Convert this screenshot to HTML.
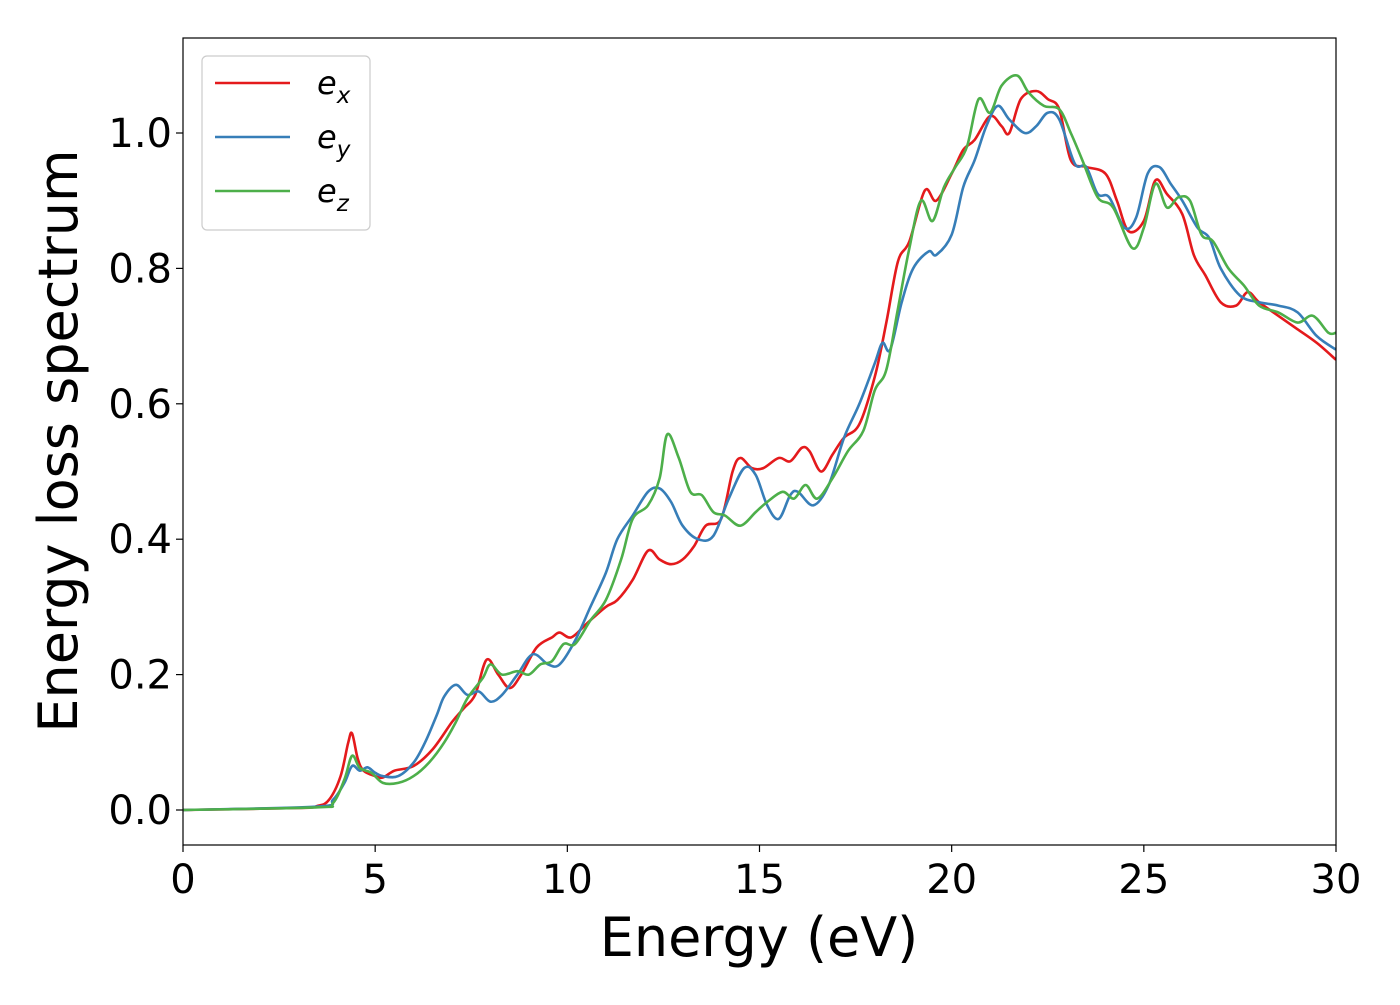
<!DOCTYPE html>
<html><head><meta charset="utf-8"><style>
body{margin:0;background:#fff;width:1400px;height:1000px;overflow:hidden}
svg text{font-family:"DejaVu Sans","Liberation Sans",sans-serif;fill:#000}
</style></head><body>
<svg id="chart" width="1400" height="1000" xmlns="http://www.w3.org/2000/svg">
<g id="plot"></g>
</svg>
<script>
const xTicks=[0,5,10,15,20,25,30];
const yTicks=[0.0,0.2,0.4,0.6,0.8,1.0];
const seriesNames=["e_x","e_y","e_z"];
const exX=[0,3,3.5,3.8,4.1,4.3,4.4,4.55,4.7,5.0,5.2,5.5,6.0,6.5,7.0,7.3,7.6,7.9,8.2,8.5,8.8,9.2,9.6,9.8,10.1,10.5,11.0,11.3,11.7,12.1,12.4,12.7,13.0,13.3,13.6,14.0,14.3,14.5,14.8,15.1,15.5,15.8,16.1,16.3,16.6,16.9,17.2,17.6,18.0,18.3,18.6,18.9,19.3,19.6,20.0,20.3,20.6,21.0,21.3,21.5,21.8,22.2,22.5,22.8,23.1,23.5,24.0,24.3,24.6,25.0,25.3,25.6,26.0,26.3,26.6,27.0,27.4,27.7,28.0,28.5,29.0,29.5,30];
const exY=[0,0.003,0.006,0.015,0.05,0.1,0.113,0.075,0.058,0.05,0.048,0.058,0.065,0.09,0.13,0.15,0.17,0.222,0.2,0.18,0.2,0.24,0.255,0.262,0.255,0.275,0.3,0.31,0.34,0.383,0.37,0.363,0.37,0.39,0.42,0.43,0.5,0.52,0.505,0.505,0.52,0.515,0.535,0.53,0.5,0.525,0.55,0.57,0.64,0.72,0.81,0.84,0.915,0.9,0.94,0.975,0.99,1.025,1.01,1.0,1.05,1.062,1.05,1.035,0.96,0.95,0.94,0.9,0.855,0.87,0.93,0.91,0.88,0.82,0.79,0.75,0.745,0.765,0.75,0.73,0.71,0.69,0.665];
const eyX=[0,3.5,3.9,4.2,4.4,4.6,4.8,5.0,5.2,5.6,6.0,6.3,6.6,6.8,7.1,7.4,7.7,8.0,8.3,8.7,9.1,9.5,9.8,10.2,10.6,11.0,11.3,11.7,12.1,12.4,12.7,13.0,13.4,13.8,14.2,14.6,14.9,15.2,15.5,15.8,16.0,16.4,16.8,17.2,17.6,18.0,18.2,18.4,18.7,19.0,19.4,19.6,20.0,20.3,20.6,20.9,21.2,21.5,21.9,22.2,22.5,22.8,23.2,23.5,23.8,24.1,24.5,24.8,25.1,25.4,25.7,26.0,26.4,26.7,27.0,27.5,28.0,28.5,29.0,29.5,30];
const eyY=[0,0.005,0.015,0.04,0.065,0.058,0.063,0.055,0.05,0.05,0.07,0.1,0.14,0.168,0.185,0.17,0.175,0.16,0.17,0.2,0.23,0.215,0.215,0.25,0.3,0.35,0.4,0.435,0.47,0.475,0.455,0.42,0.4,0.405,0.46,0.505,0.495,0.45,0.43,0.465,0.47,0.45,0.48,0.55,0.6,0.66,0.69,0.68,0.75,0.8,0.825,0.82,0.85,0.92,0.96,1.01,1.04,1.02,1.0,1.01,1.03,1.02,0.955,0.95,0.91,0.905,0.86,0.875,0.94,0.95,0.925,0.9,0.86,0.845,0.8,0.76,0.75,0.745,0.735,0.7,0.68];
const ezX=[0,3.5,3.9,4.2,4.4,4.6,4.9,5.2,5.6,6.0,6.4,6.8,7.1,7.4,7.8,8.0,8.3,8.7,9.0,9.3,9.6,9.9,10.2,10.6,11.0,11.4,11.7,12.1,12.4,12.6,12.9,13.2,13.5,13.8,14.1,14.5,14.9,15.2,15.6,15.9,16.2,16.5,16.9,17.3,17.7,18.0,18.3,18.6,18.9,19.2,19.5,19.8,20.1,20.4,20.7,21.0,21.3,21.7,22.0,22.4,22.8,23.1,23.4,23.8,24.2,24.7,25.0,25.3,25.6,25.9,26.2,26.5,26.8,27.2,27.6,28.0,28.5,29.0,29.4,29.8,30];
const ezY=[0,0.004,0.01,0.045,0.08,0.062,0.055,0.04,0.04,0.05,0.07,0.1,0.13,0.165,0.195,0.215,0.2,0.205,0.2,0.215,0.22,0.245,0.245,0.28,0.31,0.37,0.43,0.45,0.49,0.555,0.52,0.47,0.465,0.44,0.435,0.42,0.44,0.455,0.47,0.46,0.48,0.46,0.49,0.53,0.56,0.62,0.65,0.74,0.83,0.9,0.87,0.92,0.95,0.98,1.05,1.03,1.07,1.085,1.06,1.04,1.035,1.0,0.96,0.905,0.89,0.83,0.86,0.925,0.89,0.905,0.9,0.85,0.84,0.8,0.775,0.745,0.735,0.72,0.73,0.705,0.705];

const L=183,R=1336,T=38,B=845;
const sx=v=>L+(v-0)/(30-0)*(R-L);
const sy=v=>810-v*677;
const NS="http://www.w3.org/2000/svg";
const g=document.getElementById('plot');
function mk(t,a){const e=document.createElementNS(NS,t);for(const k in a)e.setAttribute(k,a[k]);g.appendChild(e);return e;}
function path(xs,ys){
  const p=xs.map((x,i)=>[sx(x),sy(ys[i])]);
  let d=`M${p[0][0].toFixed(1)},${p[0][1].toFixed(1)}`;
  for(let i=0;i<p.length-1;i++){
    const p0=p[Math.max(0,i-1)],p1=p[i],p2=p[i+1],p3=p[Math.min(p.length-1,i+2)];
    const c1=[p1[0]+(p2[0]-p0[0])/6,p1[1]+(p2[1]-p0[1])/6];
    const c2=[p2[0]-(p3[0]-p1[0])/6,p2[1]-(p3[1]-p1[1])/6];
    d+=`C${c1[0].toFixed(1)},${c1[1].toFixed(1)} ${c2[0].toFixed(1)},${c2[1].toFixed(1)} ${p2[0].toFixed(1)},${p2[1].toFixed(1)}`;
  }
  return d;
}
const clip=mk('clipPath',{id:'cp'});
const cr=document.createElementNS(NS,'rect');cr.setAttribute('x',L);cr.setAttribute('y',T);cr.setAttribute('width',R-L);cr.setAttribute('height',B-T);clip.appendChild(cr);
const series=[[exX,exY,'#e41a1c','series-ex'],[eyX,eyY,'#377eb8','series-ey'],[ezX,ezY,'#4daf4a','series-ez']];
series.forEach(s=>{
  const e=mk('path',{d:path(s[0],s[1]),fill:'none',stroke:s[2],'stroke-width':2.6,'clip-path':'url(#cp)','stroke-linejoin':'round'});
  
  
});
const fr=mk('rect',{x:L,y:T,width:R-L,height:B-T,fill:'none',stroke:'#000','stroke-width':1.2});


xTicks.forEach(v=>{
  mk('line',{x1:sx(v),x2:sx(v),y1:B,y2:B+7,stroke:'#000','stroke-width':1.2});
  const t=mk('text',{x:sx(v),y:893,'font-size':40,'text-anchor':'middle'});t.textContent=v;
  
  
});
yTicks.forEach(v=>{
  mk('line',{x1:L-7,x2:L,y1:sy(v),y2:sy(v),stroke:'#000','stroke-width':1.2});
  const t=mk('text',{x:172,y:sy(v)+14,'font-size':40,'text-anchor':'end'});t.textContent=v.toFixed(1);
  
  
});
const xl=mk('text',{x:759,y:956,'font-size':54,'text-anchor':'middle'});xl.textContent='Energy (eV)';


const yl=mk('text',{x:0,y:0,'font-size':54,'text-anchor':'middle',transform:'translate(77,441) rotate(-90)'});yl.textContent='Energy loss spectrum';


const lb=mk('rect',{x:202,y:56,width:168,height:174,rx:5,fill:'#fff',stroke:'#ccc','stroke-width':1.2});


const subs=['x','y','z'];
series.forEach((s,i)=>{
  const y=83+i*54;
  mk('line',{x1:215,x2:290,y1:y,y2:y,stroke:s[2],'stroke-width':2.6});
  const t=mk('text',{x:317,y:y+11,'font-size':32,'font-style':'italic'});
  t.innerHTML='e<tspan font-size="23" dy="9">'+subs[i]+'</tspan>';
  
  
});
</script>
</body></html>
